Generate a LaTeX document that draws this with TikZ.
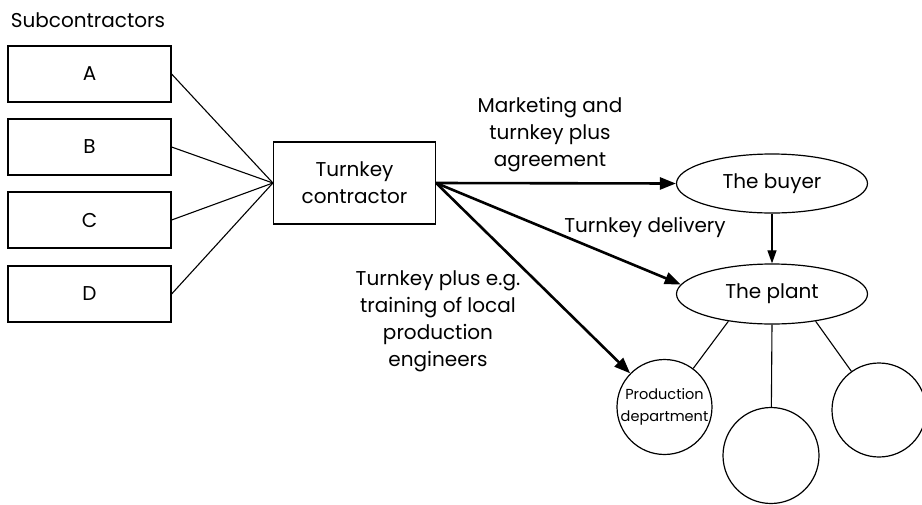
\documentclass[tikz,border=0pt]{standalone}
\usepackage{fontspec}
\setmainfont{Poppins}
\usetikzlibrary{arrows.meta,shapes.geometric}
\begin{document}
\begin{tikzpicture}[x=1pt,y=-1pt,
  every node/.style={font=\fontsize{20}{27}\selectfont},
  subbox/.style={draw,line width=1.2pt,minimum width=163pt,minimum height=56pt,inner sep=0pt},
  oval/.style={draw,ellipse,line width=1.2pt,minimum width=191pt,minimum height=59pt,inner sep=0pt},
  dept/.style={draw,circle,line width=1.2pt,inner sep=0pt},
  thin/.style={line width=1.1pt},
  bigarrow/.style={line width=2.6pt,-{Triangle[length=16pt,width=12pt]}},
  smallarrow/.style={line width=1.1pt,-{Triangle[length=13pt,width=9pt]}},
  lbl/.style={align=center,inner sep=0pt}
]
\useasboundingbox (0,0) rectangle (922,504);
\node[lbl] (sublbl) at (88,20) {Subcontractors};
\node[subbox] (A) at (89.5,74) {A};
\node[subbox] (B) at (89.5,147) {B};
\node[subbox] (C) at (89.5,220) {C};
\node[subbox] (D) at (89.5,294) {D};
\node[draw,line width=1.2pt,minimum width=162pt,minimum height=82pt,inner sep=0pt,align=center] (tc) at (354.5,183) {Turnkey\\contractor};
\node[oval] (buyer) at (772,183.5) {The buyer};
\node[oval,minimum height=60pt] (plant) at (772,294) {The plant};
\node[dept,minimum size=93pt,align=center,font=\fontsize{14.5}{28}\selectfont] (prod) at (664.5,407) {Production\\[-6pt]department};
\node[dept,minimum size=96pt] (mid) at (771,455.5) {};
\node[dept,minimum size=94pt] (right) at (879,410) {};

\foreach \s in {A,B,C,D} \draw[thin] (\s.east) -- (tc.west);

\draw[bigarrow] (tc.east) -- (buyer.west);
\draw[bigarrow] (tc.east) -- (plant.174);
\draw[bigarrow] (tc.east) -- (prod);
\draw[smallarrow] (buyer.south) -- (plant.north);

\draw[thin] (plant.212) -- (prod);
\draw[thin] (plant.south) -- (mid);
\draw[thin] (plant.328) -- (right);

\node[lbl] (l1) at (550,135) {Marketing and\\turnkey plus\\agreement};
\node[lbl] (l2) at (645,227) {Turnkey delivery};
\node[lbl] (l3) at (438,321) {Turnkey plus e.g.\\training of local\\production\\engineers};
\end{tikzpicture}
\end{document}
